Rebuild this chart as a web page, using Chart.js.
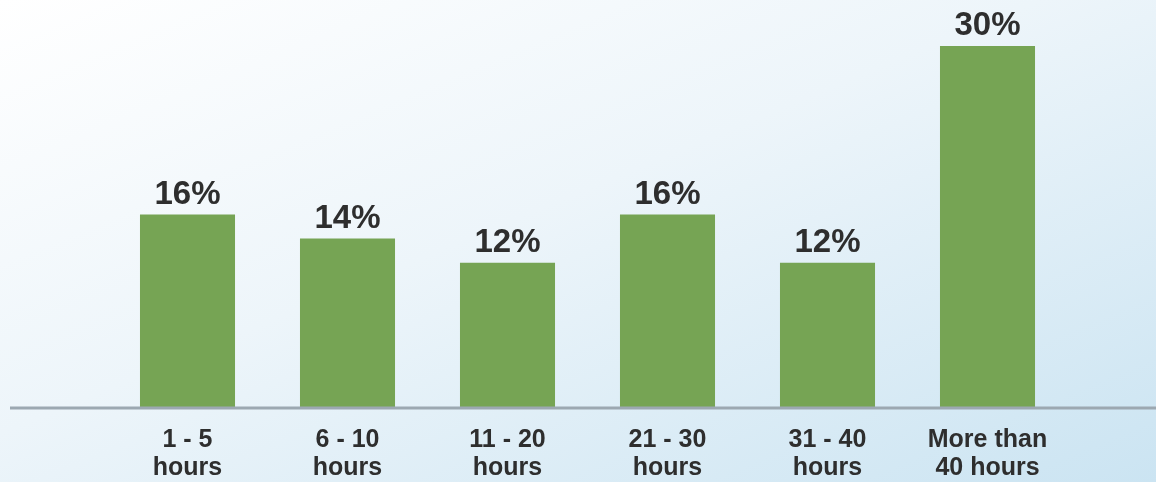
<!DOCTYPE html>
<html>
<head>
<meta charset="utf-8">
<script src="https://cdn.jsdelivr.net/npm/chart.js@4"></script>
<style>
  html, body { margin: 0; padding: 0; }
  #wrap {
    width: 1156px;
    height: 482px;
    background: linear-gradient(to bottom right, #ffffff 0%, #edf5fa 45%, #cbe4f2 100%);
  }
</style>
</head>
<body>
<div id="wrap"><canvas id="hoursChart"></canvas></div>
<script>
const categories = [["1 - 5", "hours"], ["6 - 10", "hours"], ["11 - 20", "hours"], ["21 - 30", "hours"], ["31 - 40", "hours"], ["More than", "40 hours"]];
const shares = [16, 14, 12, 16, 12, 30];

// long grey baseline running past the plot on both sides
const baseline = {
  id: "baseline",
  afterDatasetsDraw(chart) {
    const ctx = chart.ctx;
    const y = chart.scales.y.getPixelForValue(0);
    ctx.save();
    ctx.strokeStyle = "#9ca8b1";
    ctx.lineWidth = 3;
    ctx.beginPath();
    ctx.moveTo(10, y + 1);
    ctx.lineTo(chart.width, y + 1);
    ctx.stroke();
    ctx.restore();
  }
};

// percentage above each bar
const valueLabels = {
  id: "valueLabels",
  afterDatasetsDraw(chart) {
    const ctx = chart.ctx;
    const meta = chart.getDatasetMeta(0);
    ctx.save();
    ctx.fillStyle = "#2e2e2e";
    ctx.font = "bold 33px 'Liberation Sans', Arial, sans-serif";
    ctx.textAlign = "center";
    ctx.textBaseline = "alphabetic";
    meta.data.forEach((bar, i) => {
      ctx.fillText(shares[i] + "%", bar.x, bar.y - 11);
    });
    ctx.restore();
  }
};

new Chart(document.getElementById("hoursChart"), {
  type: "bar",
  data: {
    labels: categories,
    datasets: [{
      data: shares,
      backgroundColor: "#76a454",
      categoryPercentage: 1,
      barPercentage: 0.594
    }]
  },
  options: {
    responsive: true,
    maintainAspectRatio: false,
    animation: false,
    layout: { padding: { left: 107.5, right: 88.5, top: 10, bottom: -19 } },
    plugins: {
      legend: { display: false },
      tooltip: { enabled: false }
    },
    scales: {
      x: {
        grid: { display: false, drawTicks: false },
        border: { display: false },
        ticks: {
          color: "#2e2e2e",
          padding: 19,
          font: { family: "'Liberation Sans', Arial, sans-serif", size: 25, weight: "bold", lineHeight: 1.12 }
        }
      },
      y: {
        display: false,
        min: 0,
        max: 33
      }
    }
  },
  plugins: [baseline, valueLabels]
});
</script>
</body>
</html>
